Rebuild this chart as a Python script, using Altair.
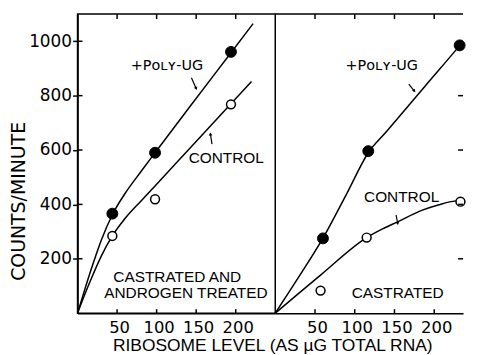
import altair as alt
import pandas as pd

# ---------------- data ----------------
X_TICKS = [50, 100, 150, 200]
Y_TICKS = [200, 400, 600, 800, 1000]

# Left panel: castrated and androgen treated
L_POLY_X = [44, 98, 194]
L_POLY_Y = [366, 590, 961]
L_CTRL_X = [44, 98, 194]
L_CTRL_Y = [284, 419, 768]
L_POLY_CURVE_X = [0, 10, 20, 30, 44, 60, 80, 98, 140, 194, 222]
L_POLY_CURVE_Y = [0, 95, 185, 268, 362, 440, 520, 590, 752, 958, 1065]
L_CTRL_CURVE_X = [0, 10, 20, 30, 44, 60, 80, 98, 140, 194, 220]
L_CTRL_CURVE_Y = [0, 75, 145, 210, 284, 348, 412, 468, 600, 770, 852]

# Right panel: castrated
R_POLY_X = [60, 117, 232]
R_POLY_Y = [275, 596, 985]
R_CTRL_X = [57, 115, 233]
R_CTRL_Y = [83, 278, 410]
R_POLY_CURVE_X = [0, 30, 60, 90, 117, 140, 190, 232, 236]
R_POLY_CURVE_Y = [0, 135, 276, 440, 590, 668, 840, 984, 998]
R_CTRL_CURVE_X = [0, 57, 115, 135, 154, 185, 205, 227, 233]
R_CTRL_CURVE_Y = [0, 140, 278, 310, 336, 379, 398, 413, 414]

POLY_LABEL = "+Pᴏʟʏ-UG"
L_POLY_LABEL_XY = [113, 910]
R_POLY_LABEL_XY = [134, 910]
L_TEXTS = ["CONTROL", "CASTRATED AND", "ANDROGEN TREATED"]
L_TEXT_X = [188, 126, 137]
L_TEXT_Y = [570, 132, 73]
R_TEXTS = ["CONTROL", "CASTRATED"]
R_TEXT_X = [159, 154]
R_TEXT_Y = [428, 73]

# annotation arrows: tail (x, y) -> head (x2, y2)
L_ARROW_X = [144, 170]
L_ARROW_Y = [866, 622]
L_ARROW_X2 = [150, 168]
L_ARROW_Y2 = [826, 659]
R_ARROW_X = [168, 152]
R_ARROW_Y = [842, 361]
R_ARROW_X2 = [175, 154]
R_ARROW_Y2 = [817, 330]
L_HEAD_ANGLE = [337, 171]
R_HEAD_ANGLE = [323, 349]

Y_TITLE = "COUNTS/MINUTE"
X_TITLE = "RIBOSOME LEVEL (AS µG TOTAL RNA)"

W_LEFT, W_RIGHT, H = 199, 189, 301
X_MAX_LEFT, X_MAX_RIGHT = 250, 236.25
TEXT_FONT = "Liberation Sans"
NUM_FONT = "DejaVu Sans"


def xenc(xmax, with_title):
    kw = dict(values=X_TICKS, ticks=True, tickSize=0, labelPadding=6, labelOffset=2,
              labelFontSize=16.5, grid=False, format="d")
    if with_title:
        kw.update(title=X_TITLE, titleX=196, titleY=33, titleAlign="center",
                  titleBaseline="middle", titleFont=TEXT_FONT, titleFontSize=17.5)
    else:
        kw.update(title=None)
    return alt.X("x:Q", scale=alt.Scale(domain=[0, xmax], nice=False, zero=False),
                 axis=alt.Axis(**kw))


def yenc(show_axis):
    sc = alt.Scale(domain=[0, 1100], nice=False, zero=False)
    if show_axis:
        return alt.Y("y:Q", scale=sc,
                     axis=alt.Axis(values=Y_TICKS, tickSize=5, labelPadding=1,
                                   title=Y_TITLE, titleX=-59.5, titleY=188, titleAngle=270,
                                   titleAlign="center", titleBaseline="middle",
                                   grid=False, format="d"))
    return alt.Y("y:Q", scale=sc, axis=None)


def panel(poly_x, poly_y, ctrl_x, ctrl_y, pcx, pcy, ccx, ccy,
          poly_xy, texts, tx, ty, ax, ay, ax2, ay2, head_angle, left, width, xmax):
    curves = pd.DataFrame({
        "x": pcx + ccx,
        "y": pcy + ccy,
        "series": ["poly"] * len(pcx) + ["control"] * len(ccx),
    })
    filled = pd.DataFrame({"x": poly_x, "y": poly_y})
    opened = pd.DataFrame({"x": ctrl_x, "y": ctrl_y})
    poly_lab = pd.DataFrame({"x": [poly_xy[0]], "y": [poly_xy[1]], "t": [POLY_LABEL]})
    labs = pd.DataFrame({"x": tx, "y": ty, "t": texts})
    arrows = pd.DataFrame({"x": ax, "y": ay, "x2": ax2, "y2": ay2})
    heads = pd.DataFrame({"x": ax2, "y": ay2, "a": head_angle})
    xt = pd.DataFrame({"x": X_TICKS})
    yt = pd.DataFrame({"y": Y_TICKS})

    xv = xenc(xmax, left)
    yv = yenc(left)
    layers = [
        alt.Chart(curves).mark_line(color="black", strokeWidth=1.5, interpolate="monotone")
        .encode(x=xv, y=yv, detail="series:N"),
        alt.Chart(filled).mark_point(shape="circle", filled=True, fill="black", stroke="black",
                                     strokeWidth=1, size=120, opacity=1)
        .encode(x=xv, y=yv),
        alt.Chart(opened).mark_point(shape="circle", filled=True, fill="white", stroke="black",
                                     strokeWidth=1.5, size=80, opacity=1)
        .encode(x=xv, y=yv),
        alt.Chart(poly_lab).mark_text(font=NUM_FONT, fontSize=14.5, color="black",
                                      align="center", baseline="middle")
        .encode(x=xv, y=yv, text="t:N"),
        alt.Chart(labs).mark_text(font=TEXT_FONT, fontSize=15.5, color="black",
                                  align="center", baseline="middle")
        .encode(x=xv, y=yv, text="t:N"),
        alt.Chart(arrows).mark_rule(color="black", strokeWidth=1.2)
        .encode(x=xv, y=yv, x2="x2:Q", y2="y2:Q"),
        alt.Chart(heads).mark_point(shape="triangle-down", filled=True, color="black",
                                    size=14, opacity=1)
        .encode(x=xv, y=yv, angle=alt.Angle("a:Q", scale=None)),
        alt.Chart(xt).mark_rule(color="black", strokeWidth=1.5)
        .encode(x=xv, y=alt.value(0), y2=alt.value(5)),
        alt.Chart(xt).mark_rule(color="black", strokeWidth=1.5)
        .encode(x=xv, y=alt.value(H - 4), y2=alt.value(H)),
    ]
    if left:
        layers.append(
            alt.Chart(yt).mark_rule(color="black", strokeWidth=1.5)
            .encode(y=yv, x=alt.value(0), x2=alt.value(5)))
    else:
        layers.append(
            alt.Chart(yt).mark_rule(color="black", strokeWidth=1.5)
            .encode(y=yv, x=alt.value(width - 5), x2=alt.value(width)))
        layers.append(
            alt.Chart(pd.DataFrame({"k": [0]})).mark_rule(color="black", strokeWidth=1.5)
            .encode(y=alt.value(0), x=alt.value(0), x2=alt.value(width)))
    ch = alt.layer(*layers).properties(width=width, height=H)
    if not left:
        ch = ch.properties(view=alt.ViewBackground(stroke="transparent"))
    return ch


left_chart = panel(L_POLY_X, L_POLY_Y, L_CTRL_X, L_CTRL_Y,
                   L_POLY_CURVE_X, L_POLY_CURVE_Y, L_CTRL_CURVE_X, L_CTRL_CURVE_Y,
                   L_POLY_LABEL_XY, L_TEXTS, L_TEXT_X, L_TEXT_Y,
                   L_ARROW_X, L_ARROW_Y, L_ARROW_X2, L_ARROW_Y2, L_HEAD_ANGLE,
                   True, W_LEFT, X_MAX_LEFT)
right_chart = panel(R_POLY_X, R_POLY_Y, R_CTRL_X, R_CTRL_Y,
                    R_POLY_CURVE_X, R_POLY_CURVE_Y, R_CTRL_CURVE_X, R_CTRL_CURVE_Y,
                    R_POLY_LABEL_XY, R_TEXTS, R_TEXT_X, R_TEXT_Y,
                    R_ARROW_X, R_ARROW_Y, R_ARROW_X2, R_ARROW_Y2, R_HEAD_ANGLE,
                    False, W_RIGHT, X_MAX_RIGHT)

chart = (
    alt.hconcat(left_chart, right_chart, spacing=0, bounds="flush")
    .properties(
        padding={"left": 0, "top": 3, "right": 0, "bottom": 0},
        background="white",
    )
    .configure_view(stroke="black", strokeWidth=1.5)
    .configure_axis(
        labelFont=NUM_FONT, labelFontSize=17, labelColor="black",
        domainColor="black", domainWidth=1.5, tickColor="black", tickWidth=1.5,
        titleFont=NUM_FONT, titleFontSize=19, titleFontWeight="normal", titleColor="black",
    )
)

chart.save("out.html", embed_options={"renderer": "svg", "actions": False})
